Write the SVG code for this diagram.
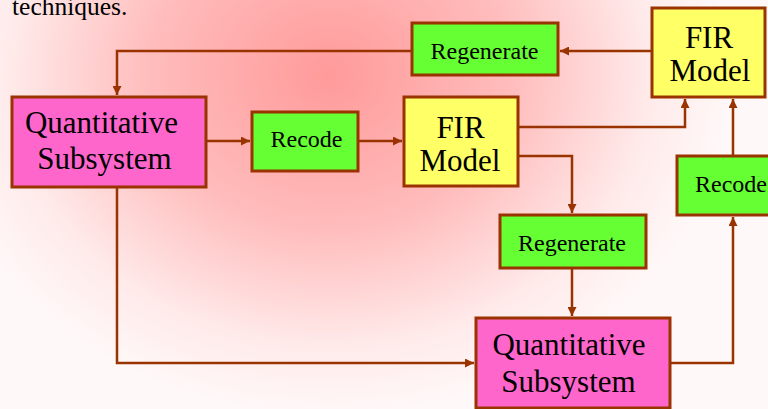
<svg xmlns="http://www.w3.org/2000/svg" width="768" height="409" viewBox="0 0 768 409">
<defs>
<radialGradient id="bg" cx="330" cy="75" r="400" gradientUnits="userSpaceOnUse" gradientTransform="translate(330 75) scale(1 0.85) translate(-330 -75)">
<stop offset="0" stop-color="#ff9a9a"/>
<stop offset="0.45" stop-color="#ffbcbc"/>
<stop offset="0.8" stop-color="#ffeaea"/>
<stop offset="1" stop-color="#fff8f8"/>
</radialGradient>
<marker id="ah" viewBox="0 0 10 10" refX="10" refY="5" markerWidth="9" markerHeight="9" markerUnits="userSpaceOnUse" orient="auto">
<path d="M0,0 L10,5 L0,10 Z" fill="#993300"/>
</marker>
</defs>
<style>
.box{stroke:#993300;stroke-width:3}
.q{fill:#ff66cc}
.f{fill:#ffff66}
.g{fill:#66ff33}
.big{font-family:"Liberation Serif","Times New Roman",serif;font-size:31px;fill:#000;text-anchor:middle}
.sm{font-family:"Liberation Serif","Times New Roman",serif;font-size:24px;fill:#000;text-anchor:middle}
.c{fill:none;stroke:#993300;stroke-width:2.5}
</style>
<rect width="768" height="409" fill="url(#bg)"/>
<text x="12" y="15" font-family="Liberation Serif, Times New Roman, serif" font-size="25.5" fill="#000">techniques.</text>
<g id="connectors">
<path class="c" d="M652,51 H560" marker-end="url(#ah)"/>
<path class="c" d="M412,51 H117 V95" marker-end="url(#ah)"/>
<path class="c" d="M206,141 H250" marker-end="url(#ah)"/>
<path class="c" d="M358,141 H402" marker-end="url(#ah)"/>
<path class="c" d="M518,127 H685 V99" marker-end="url(#ah)"/>
<path class="c" d="M518,156 H572 V213" marker-end="url(#ah)"/>
<path class="c" d="M733,156 V99" marker-end="url(#ah)"/>
<path class="c" d="M572,268 V316" marker-end="url(#ah)"/>
<path class="c" d="M670,363 H733 V217" marker-end="url(#ah)"/>
<path class="c" d="M117,187 V363 H474" marker-end="url(#ah)"/>
</g>
<g id="regen-top"><rect class="box g" x="412" y="23" width="146" height="52"/><text class="sm" x="484.5" y="59">Regenerate</text></g>
<g id="fir-top"><rect class="box f" x="652" y="8" width="113" height="89"/><text class="big" x="709" y="48">FIR</text><text class="big" x="710" y="81">Model</text></g>
<g id="quant-left"><rect class="box q" x="12" y="97" width="194" height="90"/><text class="big" x="101.5" y="133">Quantitative</text><text class="big" x="104.5" y="169">Subsystem</text></g>
<g id="recode-mid"><rect class="box g" x="252" y="112" width="106" height="59"/><text class="sm" x="306.5" y="147">Recode</text></g>
<g id="fir-mid"><rect class="box f" x="404" y="97" width="114" height="89"/><text class="big" x="460.5" y="138">FIR</text><text class="big" x="460" y="171">Model</text></g>
<g id="recode-right"><rect class="box g" x="677" y="156" width="100" height="59"/><text class="sm" x="731" y="192">Recode</text></g>
<g id="regen-mid"><rect class="box g" x="500" y="215" width="146" height="53"/><text class="sm" x="572" y="251">Regenerate</text></g>
<g id="quant-bottom"><rect class="box q" x="476" y="318" width="194" height="90"/><text class="big" x="569" y="355">Quantitative</text><text class="big" x="568.5" y="392">Subsystem</text></g>
</svg>
